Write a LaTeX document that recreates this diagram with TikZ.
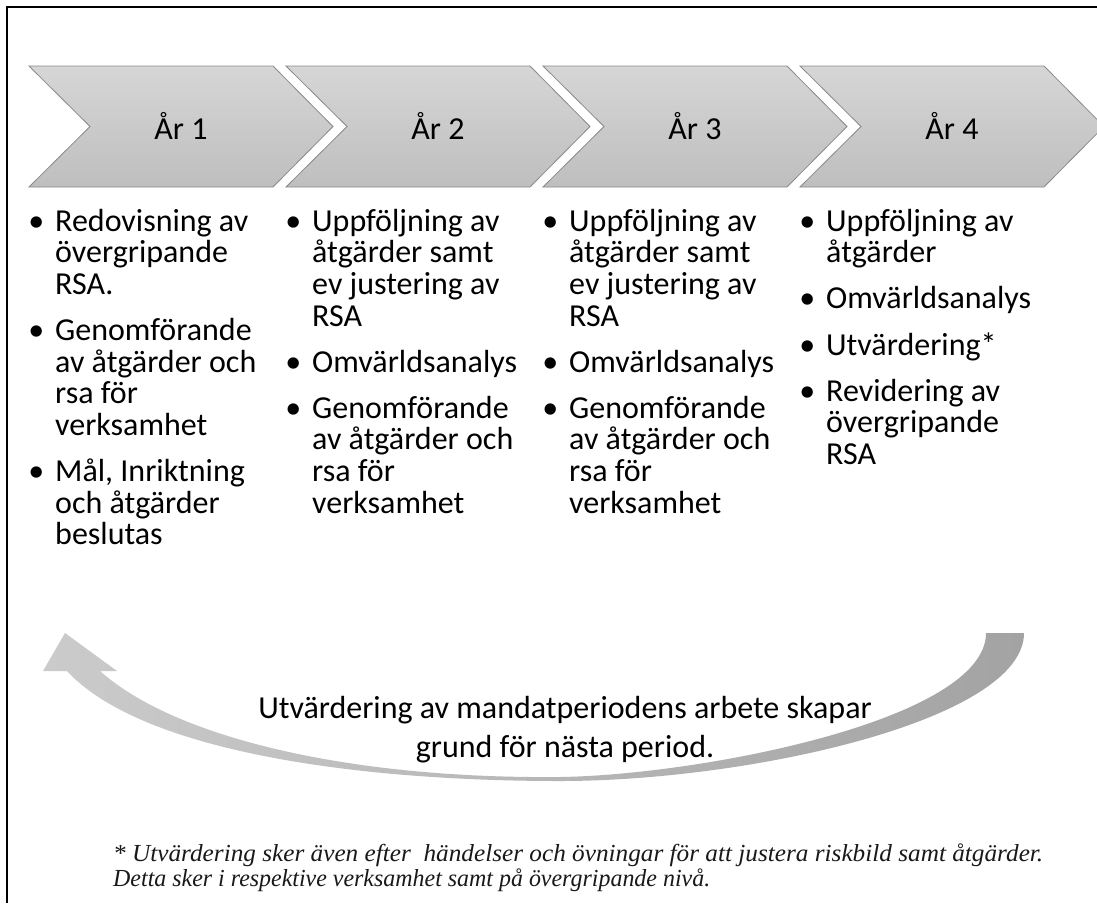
\documentclass[tikz,border=0pt]{standalone}
\usepackage{fontspec}
\usepackage{graphicx}
\setmainfont{Carlito}
\newfontfamily\notefont{Liberation Serif}
\definecolor{chevtop}{HTML}{D6D6D6}
\definecolor{chevbot}{HTML}{BEBEBE}
\definecolor{chevline}{HTML}{8A8A8A}
\definecolor{arrowleft}{HTML}{CBCBCB}
\definecolor{arrowright}{HTML}{A3A3A3}
\newcommand\bulletmark{\llap{\textbullet\hspace{11pt}}}
\newcommand\firststrut{\rule{0pt}{26pt}}
\tikzset{
  chevronline/.style={draw=chevline, line width=0.8pt},
  yearlabel/.style={font=\fontsize{32}{38}\selectfont, inner sep=0pt},
  column/.style={font=\fontsize{32}{31.6}\selectfont, align=left, anchor=north west, inner sep=0pt},
  bigtext/.style={font=\fontsize{32}{39}\selectfont, inner sep=0pt, anchor=base},
  note/.style={font=\notefont\itshape\fontsize{24.5}{25}\selectfont, inner sep=0pt, anchor=base west, text=black!90},
  bendarrow/.style={left color=arrowleft, right color=arrowright, draw=none}
}
\begin{document}
\begin{tikzpicture}[x=1pt,y=-1pt]
\useasboundingbox (0,0) rectangle (1097,903);
\fill[white] (0,0) rectangle (1097,903);
% frame (only top and left visible)
\draw[line width=2pt] (7,903) -- (7,7) -- (1097,7);

% chevrons: vertical gradient built from thin strips, then outline
\foreach \i in {0,1,2,3}{
  \pgfmathsetmacro\L{29+257*\i}
  \begin{scope}
    \clip (\L,66) -- ({\L+244},66) -- ({\L+304},126.5) -- ({\L+244},187) -- (\L,187) -- ({\L+61},126.5) -- cycle;
    \foreach \k in {0,...,40}{
      \pgfmathsetmacro\pct{100-2.5*\k}
      \fill[chevtop!\pct!chevbot] (\L-2,{66+3.025*\k-0.2}) rectangle ({\L+310},{66+3.025*(\k+1)+0.2});
    }
  \end{scope}
  \path[chevronline] (\L,66) -- ({\L+244},66) -- ({\L+304},126.5) -- ({\L+244},187) -- (\L,187) -- ({\L+61},126.5) -- cycle;
}
\node[yearlabel] (y1) at (181,126) {År 1};
\node[yearlabel] (y2) at (438,126) {År 2};
\node[yearlabel] (y3) at (695,126) {År 3};
\node[yearlabel] (y4) at (952,126) {År 4};

% columns
\node[column] (c1) at (55,205) {\firststrut\bulletmark Redovisning av\\ övergripande\\ RSA.\\[14.5pt]
\bulletmark Genomförande\\ av åtgärder och\\ rsa för\\ verksamhet\\[14.5pt]
\bulletmark Mål, Inriktning\\ och åtgärder\\ beslutas};
\node[column] (c2) at (312,205) {\firststrut\bulletmark Uppföljning av\\ åtgärder samt\\ ev justering av\\ RSA\\[14.5pt]
\bulletmark Omvärldsanalys\\[14.5pt]
\bulletmark Genomförande\\ av åtgärder och\\ rsa för\\ verksamhet};
\node[column] (c3) at (569,205) {\firststrut\bulletmark Uppföljning av\\ åtgärder samt\\ ev justering av\\ RSA\\[14.5pt]
\bulletmark Omvärldsanalys\\[14.5pt]
\bulletmark Genomförande\\ av åtgärder och\\ rsa för\\ verksamhet};
\node[column] (c4) at (826,205) {\firststrut\bulletmark Uppföljning av\\ åtgärder\\[14.5pt]
\bulletmark Omvärldsanalys\\[14.5pt]
\bulletmark Utvärdering*\\[14.5pt]
\bulletmark Revidering av\\ övergripande\\ RSA};

% curved return arrow
\path[bendarrow] (1024,633) .. controls (1024,720) and (750,781) .. (560,781)
  .. controls (350,781) and (140,750) .. (67,671)
  -- (43,671) -- (65,633) -- (117,671) -- (100,671)
  .. controls (175,738) and (350,779) .. (560,777)
  .. controls (700,775) and (986,720) .. (986,633) -- cycle;

\node[bigtext] (t1) at (565,718) {Utvärdering av mandatperiodens arbete skapar};
\node[bigtext] (t2) at (565,757) {grund för nästa period.};

% footnote
\node[note] (n1) at (113,861) {\resizebox{930pt}{\height}{* Utvärdering sker även efter\ \ händelser och övningar för att justera riskbild samt åtgärder.}};
\node[note] (n2) at (113,886) {\resizebox{597pt}{\height}{Detta sker i respektive verksamhet samt på övergripande nivå.}};
\end{tikzpicture}
\end{document}
